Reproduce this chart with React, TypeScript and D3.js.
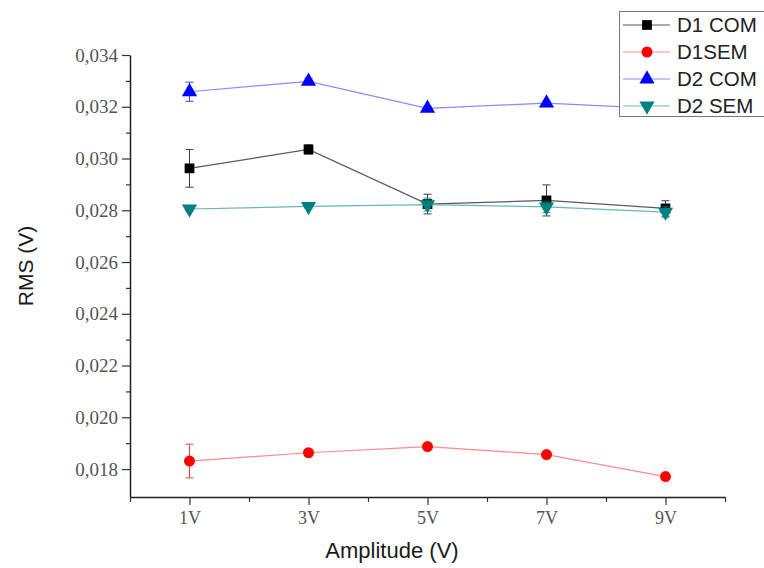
import React, { useRef, useEffect } from "react";
import * as d3 from "d3";

// Data
const amplitudes = [1, 3, 5, 7, 9];
const xTickLabels = ["1V", "3V", "5V", "7V", "9V"];

const d1Com = [0.02962, 0.03035, 0.02824, 0.02838, 0.02807];
const d1ComErr = [0.00073, 0.00018, 0.00038, 0.00060, 0.0003];
const d1Sem = [0.01831, 0.01863, 0.01887, 0.01856, 0.01771];
const d1SemErr = [0.00065, 0.00006, 0.00006, 0.00006, 0.00005];
const d2Com = [0.03258, 0.03298, 0.03194, 0.03214, 0.03192];
const d2ComErr = [0.00037, 0.00012, 0.00006, 0.00006, 0.00006];
const d2Sem = [0.02805, 0.02815, 0.02822, 0.02813, 0.02793];
const d2SemErr = [0.00008, 0.00008, 0.00025, 0.00022, 0.00022];

const seriesNames = ["D1 COM", "D1SEM", "D2 COM", "D2 SEM"];

const App = () => {
  const svgRef = useRef<SVGSVGElement>(null);

  useEffect(() => {
    const width = 764;
    const height = 568;
    const svg = d3.select(svgRef.current).attr("width", width).attr("height", height);
    svg.selectAll("*").remove();

    const xScale = d3.scaleLinear().domain([0, 10]).range([130, 725]);
    const yScale = d3.scaleLinear().domain([0.01692, 0.034]).range([497, 55]);

    const series = [
      { name: seriesNames[0], values: d1Com, err: d1ComErr, color: "#000000", line: "#5a5a5a", symbol: d3.symbolSquare, size: 95, rotate: 0 },
      { name: seriesNames[1], values: d1Sem, err: d1SemErr, color: "#ff0000", line: "#ff8a8a", symbol: d3.symbolCircle, size: 95, rotate: 0 },
      { name: seriesNames[2], values: d2Com, err: d2ComErr, color: "#0000ff", line: "#8a8aff", symbol: d3.symbolTriangle, size: 100, rotate: 0 },
      { name: seriesNames[3], values: d2Sem, err: d2SemErr, color: "#008080", line: "#6ab5b5", symbol: d3.symbolTriangle, size: 100, rotate: 180 },
    ];

    const tickFont = "'Liberation Serif', 'Times New Roman', serif";
    const labelFont = "'Liberation Sans', Arial, sans-serif";

    // Y axis (major + minor ticks)
    const fmt = (v: number) => d3.format(".3f")(v).replace(".", ",");
    const yMajor = d3.range(0.018, 0.0345, 0.002);
    const yMinor = d3.range(0.019, 0.034, 0.002);
    const yAxis = svg.append("g").attr("transform", "translate(130,0)");
    yAxis.call(
      d3.axisLeft(yScale).tickValues(yMajor).tickFormat((d) => fmt(d as number)).tickSize(8).tickSizeOuter(0).tickPadding(4)
    );
    yAxis.append("g").call(d3.axisLeft(yScale).tickValues(yMinor).tickFormat(() => "").tickSize(4).tickSizeOuter(0))
      .select(".domain").remove();
    yAxis.selectAll("text").attr("font-family", tickFont).attr("font-size", 19).attr("fill", "#555");

    // X axis
    const xAxis = svg.append("g").attr("transform", "translate(0,497)");
    xAxis.call(
      d3.axisBottom(xScale).tickValues(amplitudes).tickFormat((d, i) => xTickLabels[i]).tickSize(8).tickSizeOuter(0).tickPadding(6)
    );
    xAxis.append("g").call(d3.axisBottom(xScale).tickValues([0, 2, 4, 6, 8, 10]).tickFormat(() => "").tickSize(5).tickSizeOuter(0))
      .select(".domain").remove();
    xAxis.selectAll("text").attr("font-family", tickFont).attr("font-size", 18).attr("fill", "#555");

    svg.selectAll(".domain").attr("stroke", "#222").attr("stroke-width", 1.5);
    svg.selectAll(".tick line").attr("stroke", "#333").attr("stroke-width", 1.2);

    // Axis titles
    svg.append("text").attr("x", 392).attr("y", 558).attr("text-anchor", "middle")
      .attr("font-family", labelFont).attr("font-size", 22).attr("fill", "#1a1a1a").text("Amplitude (V)");
    svg.append("text").attr("transform", "translate(33,266) rotate(-90)").attr("text-anchor", "middle")
      .attr("font-family", labelFont).attr("font-size", 21).attr("fill", "#1a1a1a").text("RMS (V)");

    // Series
    const line = d3.line<number>().x((d, i) => xScale(amplitudes[i])).y((d) => yScale(d));
    series.forEach((s) => {
      const g = svg.append("g");
      g.append("path").attr("d", line(s.values)).attr("fill", "none").attr("stroke", s.line).attr("stroke-width", 1.2);
      s.values.forEach((v, i) => {
        const x = xScale(amplitudes[i]);
        const y1 = yScale(v + s.err[i]);
        const y2 = yScale(v - s.err[i]);
        const eb = g.append("g").attr("stroke", s.color).attr("stroke-width", 1).attr("opacity", 0.75);
        eb.append("line").attr("x1", x).attr("x2", x).attr("y1", y1).attr("y2", y2);
        eb.append("line").attr("x1", x - 4).attr("x2", x + 4).attr("y1", y1).attr("y2", y1);
        eb.append("line").attr("x1", x - 4).attr("x2", x + 4).attr("y1", y2).attr("y2", y2);
      });
      g.selectAll(".mark").data(s.values).join("path").attr("class", "mark")
        .attr("d", d3.symbol().type(s.symbol).size(s.size)())
        .attr("transform", (d, i) => `translate(${xScale(amplitudes[i])},${yScale(d)}) rotate(${s.rotate})`)
        .attr("fill", s.color);
    });

    // Legend
    const legend = svg.append("g");
    legend.append("rect").attr("x", 619.5).attr("y", 11.5).attr("width", 150).attr("height", 105)
      .attr("fill", "#fff").attr("stroke", "#777").attr("stroke-width", 1);
    series.forEach((s, i) => {
      const cy = 25 + i * 27;
      legend.append("line").attr("x1", 623).attr("x2", 670).attr("y1", cy).attr("y2", cy)
        .attr("stroke", s.line).attr("stroke-width", 1.2);
      legend.append("path").attr("d", d3.symbol().type(s.symbol).size(s.size)())
        .attr("transform", `translate(647,${cy}) rotate(${s.rotate})`).attr("fill", s.color);
      legend.append("text").attr("x", 677).attr("y", cy + 7).attr("font-family", labelFont)
        .attr("font-size", 20.5).attr("fill", "#222").text(s.name);
    });
  }, []);

  return (
    <div style={{ position: "absolute", left: 0, top: 0 }}>
      <svg ref={svgRef}></svg>
    </div>
  );
};

export default App;
